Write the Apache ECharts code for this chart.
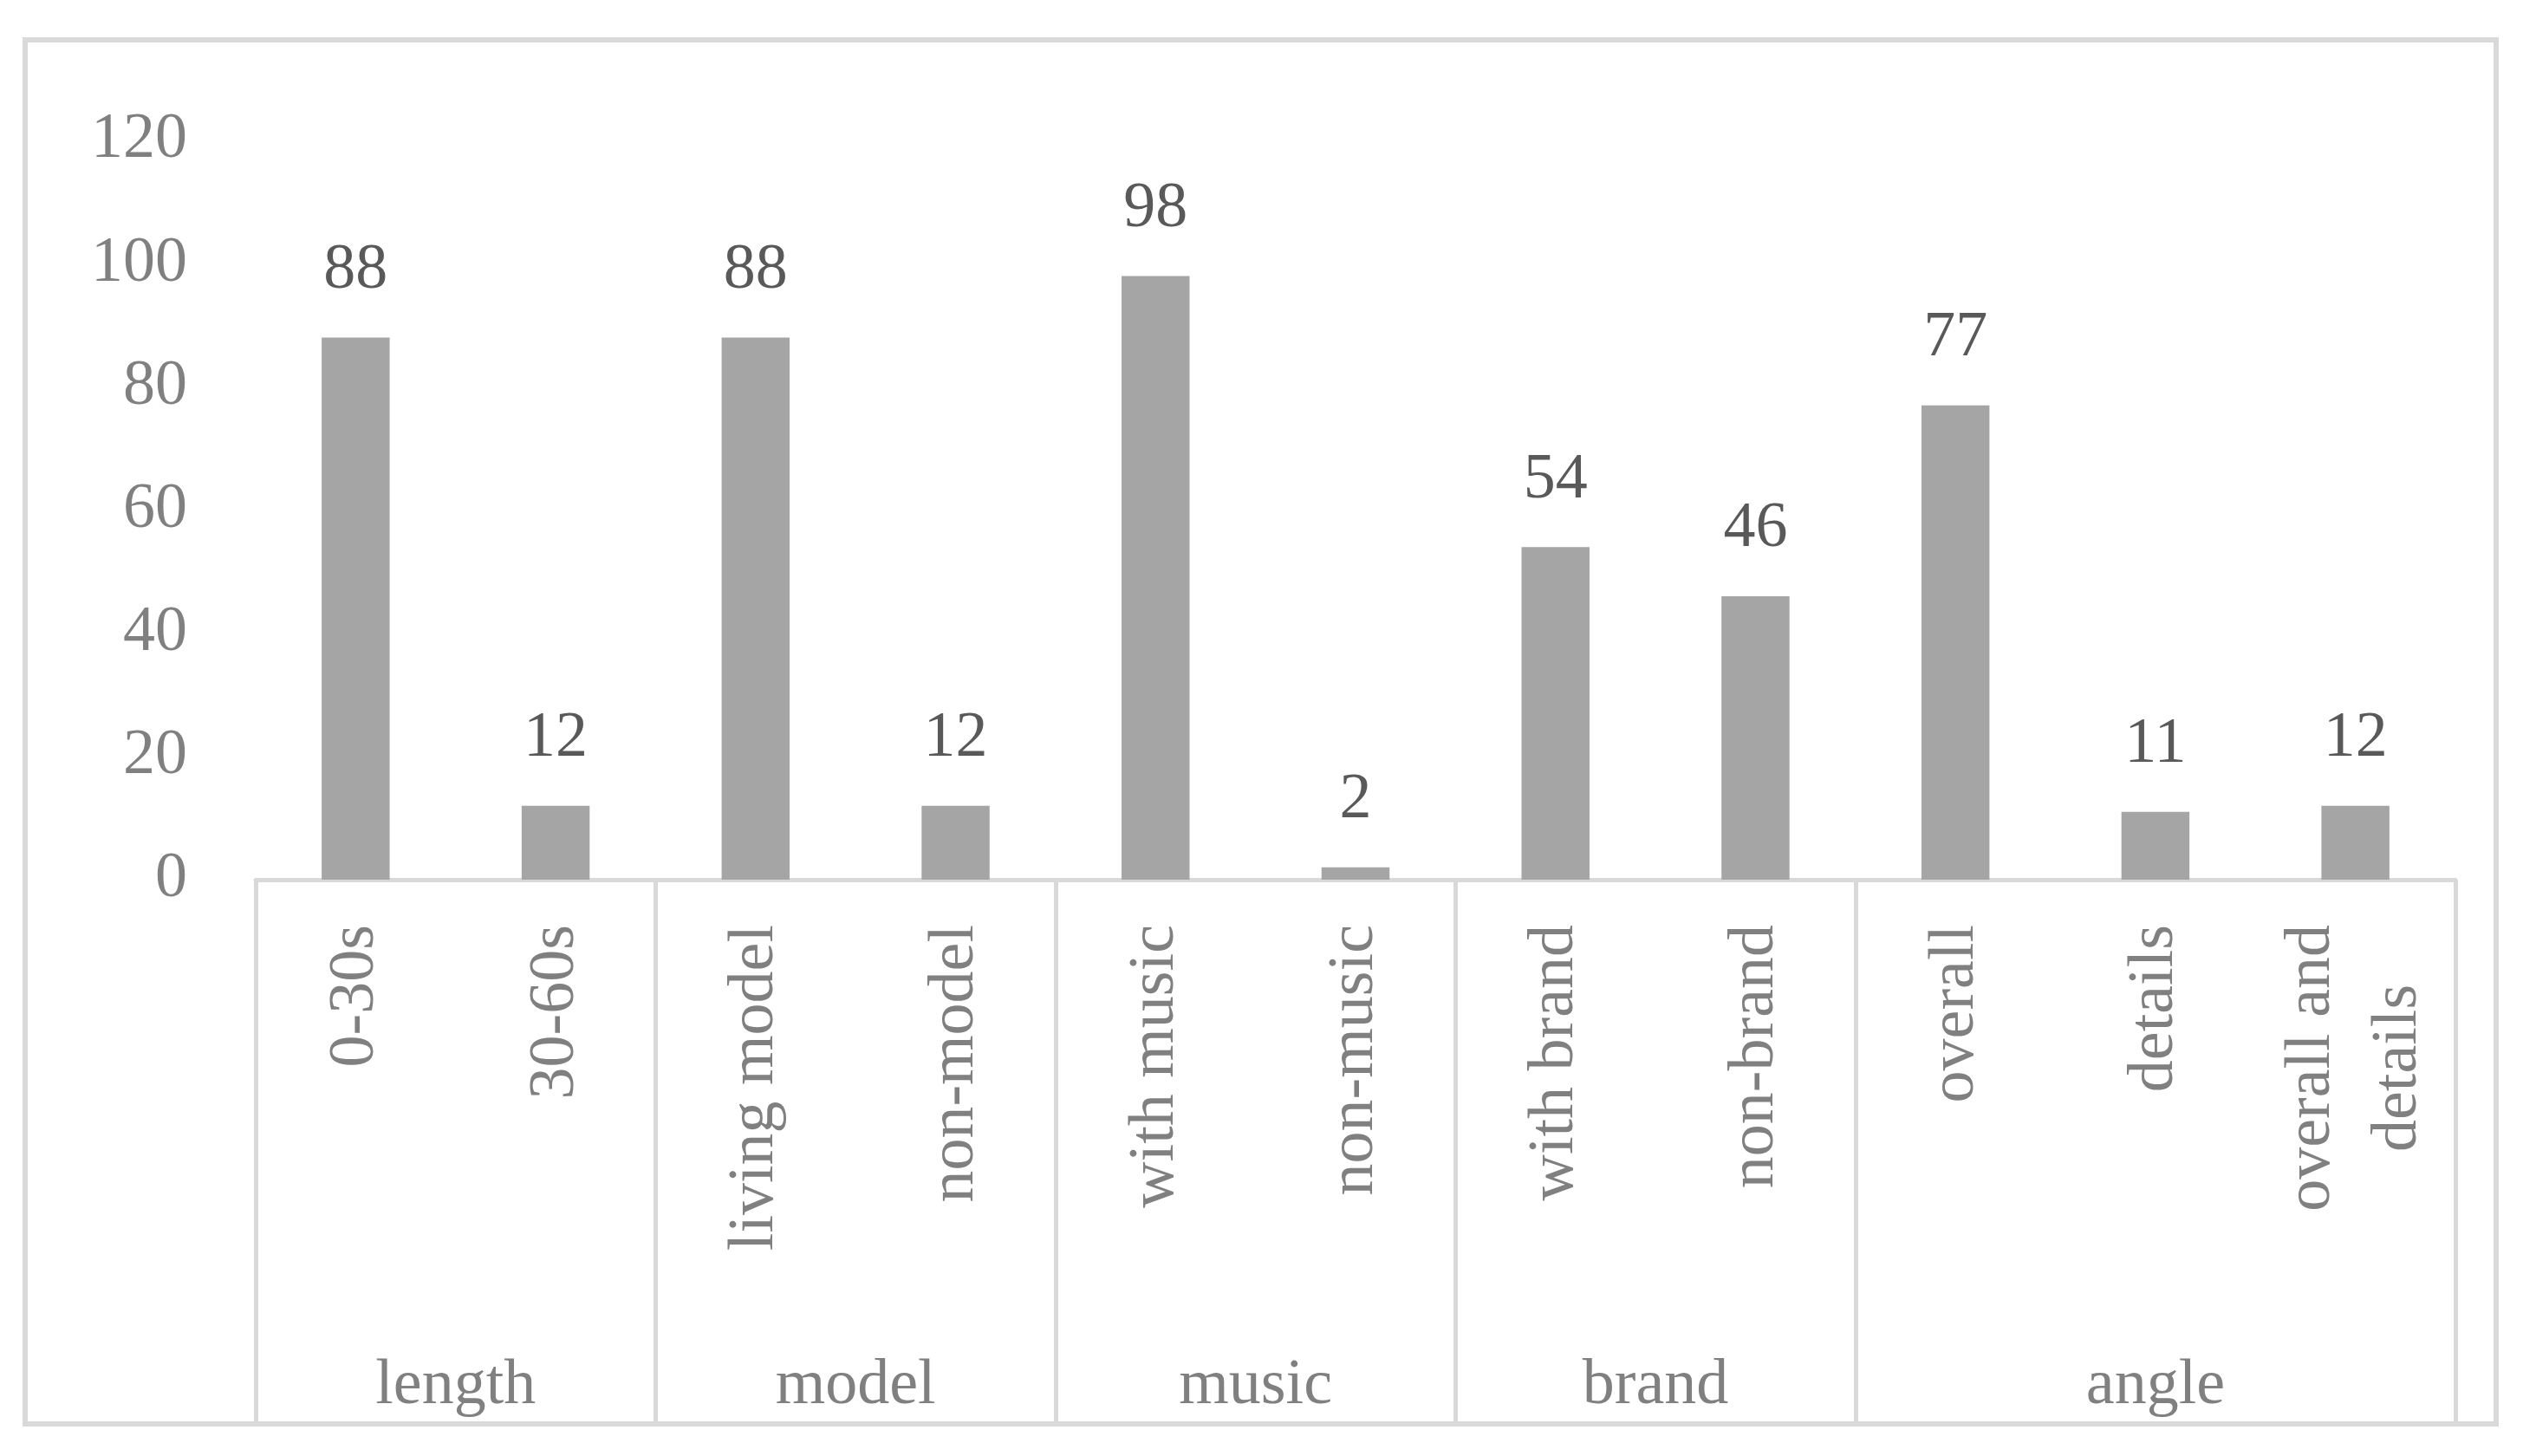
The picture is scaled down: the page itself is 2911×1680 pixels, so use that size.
<!DOCTYPE html>
<html>
<head>
<meta charset="utf-8">
<script src="https://cdn.jsdelivr.net/npm/echarts@6/dist/echarts.min.js"></script>
<style>
html,body{margin:0;padding:0;background:#fff;}
#chart{width:2911px;height:1680px;}
</style>
</head>
<body>
<div id="chart"></div>
<script>
const categories = ['0-30s', '30-60s', 'living model', 'non-model', 'with music', 'non-music', 'with brand', 'non-brand', 'overall', 'details', 'overall and\ndetails'];
const values = [88, 12, 88, 12, 98, 2, 54, 46, 77, 11, 12];
const groups = ['length', 'model', 'music', 'brand', 'angle'];
const groupSizes = [2, 2, 2, 2, 3];
const yTicks = [0, 20, 40, 60, 80, 100, 120];

const groupEdges = [0];
groupSizes.forEach(s => groupEdges.push(groupEdges[groupEdges.length - 1] + s));
const groupCenters = groups.map((g, i) => (groupEdges[i] + groupEdges[i + 1]) / 2);

const FONT = 'Liberation Serif';
const LINE = '#d9d9d9';
const TXT = '#808080';

const chart = echarts.init(document.getElementById('chart'), null, {renderer: 'canvas'});
chart.setOption({
  backgroundColor: '#fff',
  animation: false,
  graphic: [{
    type: 'rect', silent: true, z: 0,
    shape: {x: 29, y: 46, width: 2851, height: 1597},
    style: {fill: 'none', stroke: LINE, lineWidth: 6}
  }],
  grid: {left: 295, right: 78, top: 162, bottom: 665, containLabel: false},
  xAxis: [{
    type: 'category',
    data: categories,
    position: 'bottom',
    axisLine: {show: true, lineStyle: {color: LINE, width: 5}},
    axisTick: {show: false},
    splitLine: {show: false},
    axisLabel: {
      interval: 0, rotate: 90, margin: 52,
      color: TXT, fontFamily: FONT, fontSize: 74, lineHeight: 100,
      formatter: v => v.split('\n').map(s => '{c|' + s + '}').join('\n'),
      rich: {c: {align: 'center', color: TXT, fontFamily: FONT, fontSize: 74, lineHeight: 100}}
    }
  }, {
    type: 'value',
    position: 'bottom',
    min: 0, max: categories.length,
    axisLine: {show: false},
    splitLine: {show: false},
    axisTick: {show: true, customValues: groupEdges, length: 628, inside: false, lineStyle: {color: LINE, width: 5}},
    axisLabel: {
      show: true, customValues: groupCenters, margin: 548,
      color: TXT, fontFamily: FONT, fontSize: 74,
      formatter: v => groups[groupCenters.indexOf(v)]
    }
  }],
  yAxis: {
    type: 'value', min: 0, max: 120, interval: 20,
    axisLine: {show: false}, axisTick: {show: false}, splitLine: {show: false},
    axisLabel: {margin: 79, color: TXT, fontFamily: FONT, fontSize: 74,
      formatter: v => yTicks.includes(v) ? String(v) : ''}
  },
  series: [{
    type: 'bar',
    xAxisIndex: 0, yAxisIndex: 0,
    data: values,
    barWidth: '34%',
    itemStyle: {color: '#a5a5a5'},
    label: {show: true, position: 'top', distance: 40, color: '#595959', fontFamily: FONT, fontSize: 74}
  }]
});
</script>
</body>
</html>
